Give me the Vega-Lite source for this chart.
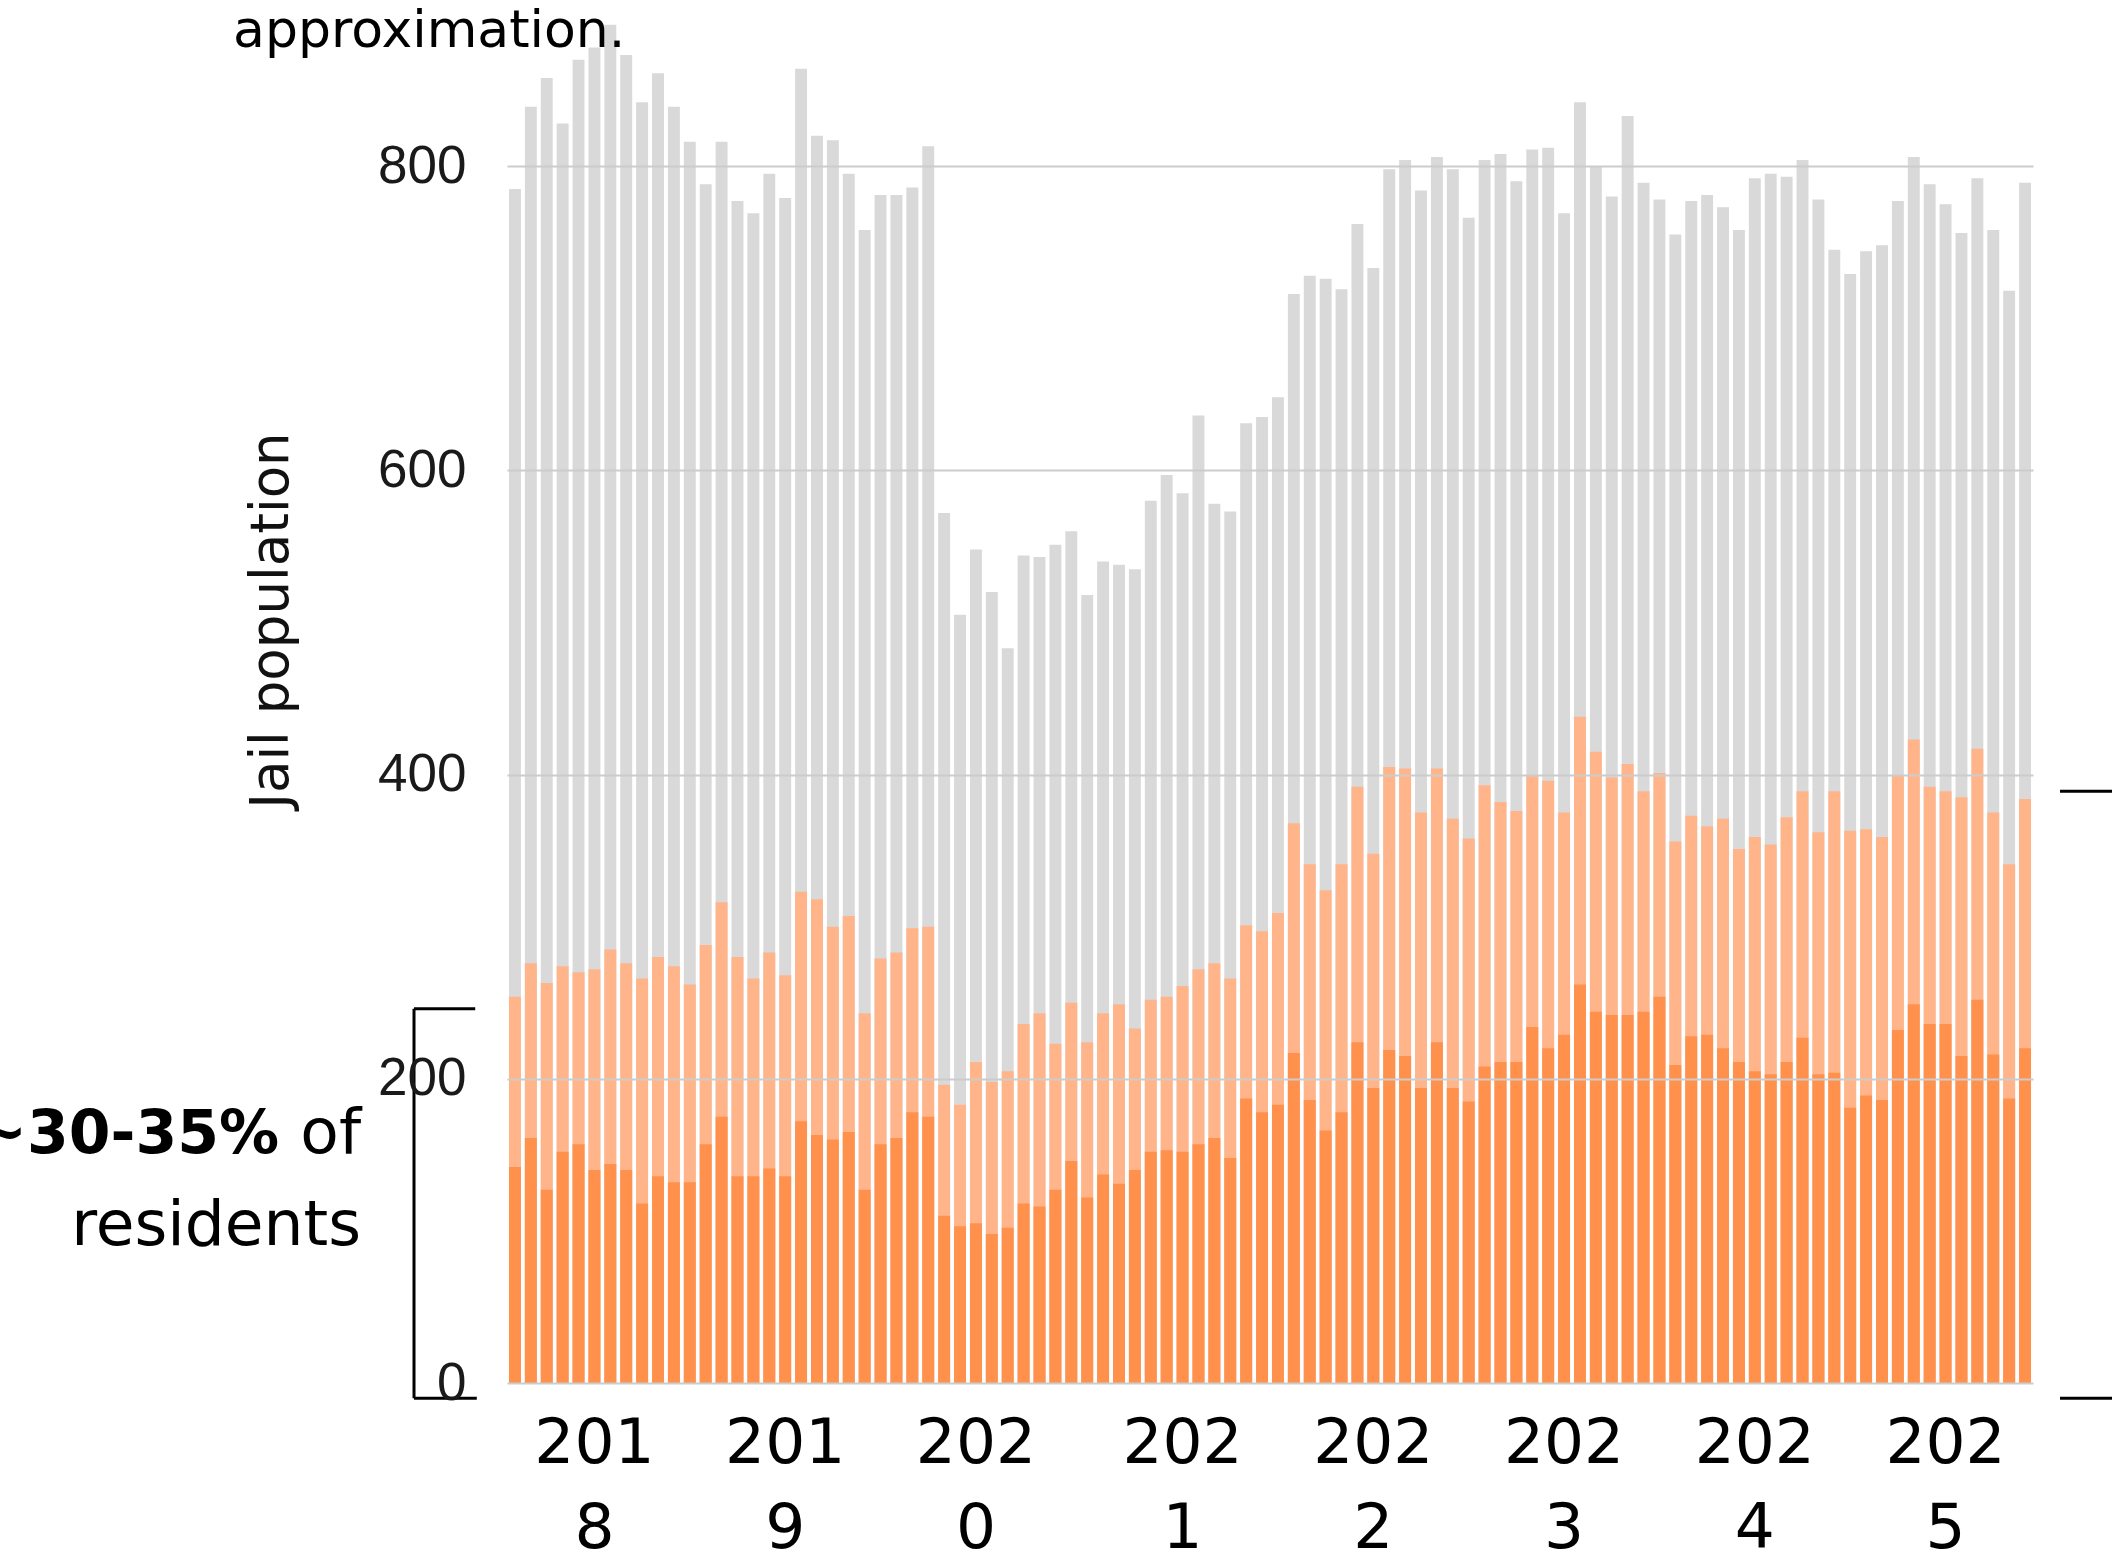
{
  "$schema": "https://vega.github.io/schema/vega-lite/v6.json",
  "autosize": {"type": "none"},
  "width": 1526,
  "height": 1369,
  "padding": {"left": 507, "top": 14, "right": 79, "bottom": 178},
  "background": "white",
  "config": {"view": {"stroke": null}},
  "datasets": {
    "monthly": [
      {"month":"2018-01","total":785,"light":254,"dark":142},{"month":"2018-02","total":839,"light":276,"dark":161},{"month":"2018-03","total":858,"light":263,"dark":127},{"month":"2018-04","total":828,"light":274,"dark":152},{"month":"2018-05","total":870,"light":270,"dark":157},{"month":"2018-06","total":878,"light":272,"dark":140},{"month":"2018-07","total":893,"light":285,"dark":144},{"month":"2018-08","total":873,"light":276,"dark":140},{"month":"2018-09","total":842,"light":266,"dark":118},{"month":"2018-10","total":861,"light":280,"dark":136},{"month":"2018-11","total":839,"light":274,"dark":132},{"month":"2018-12","total":816,"light":262,"dark":132},
      {"month":"2019-01","total":788,"light":288,"dark":157},{"month":"2019-02","total":816,"light":316,"dark":175},{"month":"2019-03","total":777,"light":280,"dark":136},{"month":"2019-04","total":769,"light":266,"dark":136},{"month":"2019-05","total":795,"light":283,"dark":141},{"month":"2019-06","total":779,"light":268,"dark":136},{"month":"2019-07","total":864,"light":323,"dark":172},{"month":"2019-08","total":820,"light":318,"dark":163},{"month":"2019-09","total":817,"light":300,"dark":160},{"month":"2019-10","total":795,"light":307,"dark":165},{"month":"2019-11","total":758,"light":243,"dark":127},{"month":"2019-12","total":781,"light":279,"dark":157},
      {"month":"2020-01","total":781,"light":283,"dark":161},{"month":"2020-02","total":786,"light":299,"dark":178},{"month":"2020-03","total":813,"light":300,"dark":175},{"month":"2020-04","total":572,"light":196,"dark":110},{"month":"2020-05","total":505,"light":183,"dark":103},{"month":"2020-06","total":548,"light":211,"dark":105},{"month":"2020-07","total":520,"light":198,"dark":98},{"month":"2020-08","total":483,"light":205,"dark":102},{"month":"2020-09","total":544,"light":236,"dark":118},{"month":"2020-10","total":543,"light":243,"dark":116},{"month":"2020-11","total":551,"light":223,"dark":127},{"month":"2020-12","total":560,"light":250,"dark":146},
      {"month":"2021-01","total":518,"light":224,"dark":122},{"month":"2021-02","total":540,"light":243,"dark":137},{"month":"2021-03","total":538,"light":249,"dark":131},{"month":"2021-04","total":535,"light":233,"dark":140},{"month":"2021-05","total":580,"light":252,"dark":152},{"month":"2021-06","total":597,"light":254,"dark":153},{"month":"2021-07","total":585,"light":261,"dark":152},{"month":"2021-08","total":636,"light":272,"dark":157},{"month":"2021-09","total":578,"light":276,"dark":161},{"month":"2021-10","total":573,"light":266,"dark":148},{"month":"2021-11","total":631,"light":301,"dark":187},{"month":"2021-12","total":635,"light":297,"dark":178},
      {"month":"2022-01","total":648,"light":309,"dark":183},{"month":"2022-02","total":716,"light":368,"dark":217},{"month":"2022-03","total":728,"light":341,"dark":186},{"month":"2022-04","total":726,"light":324,"dark":166},{"month":"2022-05","total":719,"light":341,"dark":178},{"month":"2022-06","total":762,"light":392,"dark":224},{"month":"2022-07","total":733,"light":348,"dark":194},{"month":"2022-08","total":798,"light":405,"dark":219},{"month":"2022-09","total":804,"light":404,"dark":215},{"month":"2022-10","total":784,"light":375,"dark":194},{"month":"2022-11","total":806,"light":404,"dark":224},{"month":"2022-12","total":798,"light":371,"dark":194},
      {"month":"2023-01","total":766,"light":358,"dark":185},{"month":"2023-02","total":804,"light":393,"dark":208},{"month":"2023-03","total":808,"light":382,"dark":211},{"month":"2023-04","total":790,"light":376,"dark":211},{"month":"2023-05","total":811,"light":399,"dark":234},{"month":"2023-06","total":812,"light":396,"dark":220},{"month":"2023-07","total":769,"light":375,"dark":229},{"month":"2023-08","total":842,"light":438,"dark":262},{"month":"2023-09","total":800,"light":415,"dark":244},{"month":"2023-10","total":780,"light":398,"dark":242},{"month":"2023-11","total":833,"light":407,"dark":242},{"month":"2023-12","total":789,"light":389,"dark":244},
      {"month":"2024-01","total":778,"light":401,"dark":254},{"month":"2024-02","total":755,"light":356,"dark":209},{"month":"2024-03","total":777,"light":373,"dark":228},{"month":"2024-04","total":781,"light":366,"dark":229},{"month":"2024-05","total":773,"light":371,"dark":220},{"month":"2024-06","total":758,"light":351,"dark":211},{"month":"2024-07","total":792,"light":359,"dark":205},{"month":"2024-08","total":795,"light":354,"dark":203},{"month":"2024-09","total":793,"light":372,"dark":211},{"month":"2024-10","total":804,"light":389,"dark":227},{"month":"2024-11","total":778,"light":362,"dark":203},{"month":"2024-12","total":745,"light":389,"dark":204},
      {"month":"2025-01","total":729,"light":363,"dark":181},{"month":"2025-02","total":744,"light":364,"dark":189},{"month":"2025-03","total":748,"light":359,"dark":186},{"month":"2025-04","total":777,"light":399,"dark":232},{"month":"2025-05","total":806,"light":423,"dark":249},{"month":"2025-06","total":788,"light":392,"dark":236},{"month":"2025-07","total":775,"light":389,"dark":236},{"month":"2025-08","total":756,"light":385,"dark":215},{"month":"2025-09","total":792,"light":417,"dark":252},{"month":"2025-10","total":758,"light":375,"dark":216},{"month":"2025-11","total":718,"light":341,"dark":187},{"month":"2025-12","total":789,"light":384,"dark":220}
    ],
    "brackets": [
      {"u": -5.85, "u2": -5.85, "v": -10, "v2": 246},
      {"u": -5.85, "u2": -2.0, "v": 246, "v2": 246},
      {"u": -5.85, "u2": -1.9, "v": -10, "v2": -10},
      {"u": 97.7, "u2": 101, "v": 389, "v2": 389},
      {"u": 97.7, "u2": 101, "v": -10, "v2": -10}
    ],
    "notes": [
      {"part": "intro", "text": "approximation.", "u": -17.23, "v": 878},
      {"part": "share", "text": "~30-35%", "u": -14.34, "v": 151},
      {"part": "label", "text": "of", "u": -9.18, "v": 151},
      {"part": "label", "text": "residents", "u": -9.18, "v": 91}
    ]
  },
  "layer": [
    {
      "data": {"name": "monthly"},
      "transform": [
        {"fold": ["total", "light", "dark"], "as": ["series", "count"]}
      ],
      "mark": {"type": "bar"},
      "encoding": {
        "x": {
          "field": "month", "type": "ordinal", "sort": "ascending",
          "scale": {"paddingInner": 0.25, "paddingOuter": 0.125},
          "axis": {
            "title": null,
            "labelExpr": "((slice(datum.value,5)=='06' && toNumber(slice(datum.value,0,4))<=2020) || (slice(datum.value,5)=='07' && toNumber(slice(datum.value,0,4))>=2021)) ? [slice(datum.value,0,3), slice(datum.value,3,4)] : ''",
            "labelAngle": 0,
            "labelFont": "DejaVu Sans",
            "labelFontSize": 63,
            "labelColor": "#000000",
            "labelLineHeight": 85,
            "labelPadding": 29,
            "labelBaseline": "top",
            "labelAlign": "center",
            "labelOverlap": false,
            "labelBound": false,
            "labelFlush": false,
            "ticks": false,
            "domain": false,
            "grid": false
          }
        },
        "y": {
          "field": "count", "type": "quantitative", "stack": null,
          "title": "Jail population",
          "scale": {"domain": [0, 900], "nice": false, "zero": true},
          "axis": {
            "title": "Jail population",
            "values": [0, 200, 400, 600, 800],
            "grid": true,
            "gridColor": "#cccccc",
            "gridWidth": 2,
            "ticks": false,
            "domain": false,
            "labelFont": "Liberation Sans",
            "labelFontSize": 53,
            "labelColor": "#1a1a1a",
            "labelPadding": 41,
            "zindex": 1,
            "titleFont": "DejaVu Sans",
            "titleFontSize": 53,
            "titleFontWeight": "normal",
            "titleColor": "#111111",
            "titleX": -236,
            "titleY": 606,
            "titleAngle": -90,
            "titleAlign": "center",
            "titleBaseline": "middle"
          }
        },
        "color": {
          "field": "series", "type": "nominal",
          "scale": {"domain": ["total", "light", "dark"], "range": ["#d9d9d9", "#ffb48a", "#ff914d"]},
          "legend": null
        }
      }
    },
    {
      "layer": [
        {
          "data": {"name": "brackets"},
          "mark": {"type": "rule", "color": "#000000", "strokeWidth": 3},
          "encoding": {
            "x": {"field": "u", "type": "quantitative", "scale": {"domain": [0, 96], "nice": false, "zero": false}, "axis": null},
            "x2": {"field": "u2"},
            "y": {"field": "v", "type": "quantitative", "title": "Jail population", "scale": {"domain": [0, 900], "nice": false}},
            "y2": {"field": "v2"}
          }
        },
        {
          "data": {"name": "notes"},
          "transform": [{"filter": "datum.part == 'intro'"}],
          "mark": {"type": "text", "align": "left", "baseline": "alphabetic", "font": "DejaVu Sans", "fontSize": 52, "color": "#000000"},
          "encoding": {
            "x": {"field": "u", "type": "quantitative", "scale": {"domain": [0, 96], "nice": false, "zero": false}, "axis": null},
            "y": {"field": "v", "type": "quantitative", "title": "Jail population", "scale": {"domain": [0, 900], "nice": false}},
            "text": {"field": "text"}
          }
        },
        {
          "data": {"name": "notes"},
          "transform": [{"filter": "datum.part == 'share'"}],
          "mark": {"type": "text", "align": "right", "baseline": "alphabetic", "font": "DejaVu Sans", "fontSize": 60, "fontWeight": "bold", "color": "#000000"},
          "encoding": {
            "x": {"field": "u", "type": "quantitative", "scale": {"domain": [0, 96], "nice": false, "zero": false}, "axis": null},
            "y": {"field": "v", "type": "quantitative", "title": "Jail population", "scale": {"domain": [0, 900], "nice": false}},
            "text": {"field": "text"}
          }
        },
        {
          "data": {"name": "notes"},
          "transform": [{"filter": "datum.part == 'label'"}],
          "mark": {"type": "text", "align": "right", "baseline": "alphabetic", "font": "DejaVu Sans", "fontSize": 63, "color": "#000000"},
          "encoding": {
            "x": {"field": "u", "type": "quantitative", "scale": {"domain": [0, 96], "nice": false, "zero": false}, "axis": null},
            "y": {"field": "v", "type": "quantitative", "title": "Jail population", "scale": {"domain": [0, 900], "nice": false}},
            "text": {"field": "text"}
          }
        }
      ]
    }
  ],
  "resolve": {"scale": {"x": "independent"}, "axis": {"x": "independent"}}
}
